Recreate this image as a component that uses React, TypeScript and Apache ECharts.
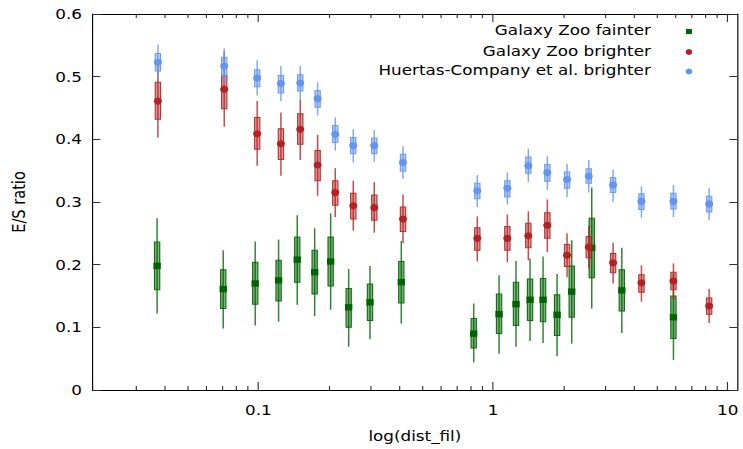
import React, { useEffect, useRef } from "react";
import * as echarts from "echarts";

// ---- data ----
const faintX = [0.037, 0.0708, 0.0969, 0.1219, 0.1464, 0.1737, 0.2032, 0.2425, 0.2989, 0.4064, 0.8273, 1.061, 1.253, 1.438, 1.634, 1.875, 2.165, 2.635, 3.539, 5.874];
const faintC = [0.198, 0.161, 0.170, 0.175, 0.208, 0.188, 0.205, 0.132, 0.140, 0.172, 0.090, 0.121, 0.137, 0.144, 0.144, 0.120, 0.157, 0.227, 0.159, 0.116];
const faintBoxHi = [0.236, 0.192, 0.204, 0.207, 0.244, 0.223, 0.244, 0.162, 0.169, 0.205, 0.114, 0.153, 0.172, 0.177, 0.178, 0.152, 0.198, 0.274, 0.192, 0.150];
const faintBoxLo = [0.160, 0.130, 0.137, 0.142, 0.172, 0.153, 0.166, 0.100, 0.111, 0.139, 0.067, 0.090, 0.103, 0.111, 0.109, 0.087, 0.116, 0.179, 0.126, 0.082];
const faintWhiHi = [0.274, 0.223, 0.237, 0.240, 0.279, 0.258, 0.282, 0.193, 0.198, 0.238, 0.138, 0.183, 0.206, 0.210, 0.213, 0.185, 0.239, 0.323, 0.227, 0.185];
const faintWhiLo = [0.122, 0.098, 0.103, 0.109, 0.136, 0.118, 0.128, 0.069, 0.081, 0.106, 0.044, 0.058, 0.069, 0.078, 0.075, 0.054, 0.074, 0.130, 0.091, 0.048];

const brightX = [0.0373, 0.0715, 0.0988, 0.1247, 0.1508, 0.1788, 0.2126, 0.2537, 0.3118, 0.4133, 0.857, 1.151, 1.414, 1.704, 2.068, 2.559, 3.249, 4.291, 5.874, 8.339];
const brightC = [0.461, 0.480, 0.409, 0.393, 0.416, 0.359, 0.315, 0.294, 0.291, 0.273, 0.242, 0.242, 0.246, 0.263, 0.215, 0.228, 0.203, 0.171, 0.174, 0.134];
const brightBoxHi = [0.491, 0.502, 0.435, 0.417, 0.441, 0.382, 0.334, 0.314, 0.311, 0.292, 0.259, 0.261, 0.266, 0.283, 0.232, 0.245, 0.218, 0.184, 0.188, 0.147];
const brightBoxLo = [0.432, 0.449, 0.384, 0.368, 0.392, 0.334, 0.295, 0.273, 0.271, 0.253, 0.223, 0.223, 0.227, 0.242, 0.197, 0.211, 0.187, 0.156, 0.160, 0.121];
const brightWhiHi = [0.519, 0.540, 0.461, 0.443, 0.463, 0.407, 0.354, 0.334, 0.332, 0.312, 0.277, 0.280, 0.285, 0.304, 0.250, 0.262, 0.235, 0.199, 0.202, 0.161];
const brightWhiLo = [0.403, 0.420, 0.358, 0.342, 0.367, 0.310, 0.276, 0.254, 0.251, 0.234, 0.205, 0.204, 0.207, 0.220, 0.180, 0.194, 0.170, 0.141, 0.144, 0.107];

const hcX = brightX;
const hcC = [0.523, 0.517, 0.498, 0.489, 0.490, 0.465, 0.408, 0.390, 0.390, 0.363, 0.318, 0.322, 0.358, 0.347, 0.336, 0.341, 0.327, 0.301, 0.301, 0.297];
const hcBoxHi = [0.537, 0.531, 0.511, 0.502, 0.503, 0.478, 0.422, 0.403, 0.402, 0.376, 0.330, 0.334, 0.372, 0.360, 0.348, 0.353, 0.339, 0.313, 0.314, 0.309];
const hcBoxLo = [0.509, 0.502, 0.484, 0.474, 0.477, 0.451, 0.395, 0.377, 0.377, 0.349, 0.305, 0.308, 0.346, 0.333, 0.322, 0.330, 0.315, 0.288, 0.289, 0.284];
const hcWhiHi = [0.551, 0.545, 0.526, 0.517, 0.517, 0.491, 0.435, 0.416, 0.415, 0.389, 0.343, 0.347, 0.385, 0.373, 0.361, 0.367, 0.352, 0.325, 0.327, 0.322];
const hcWhiLo = [0.495, 0.487, 0.470, 0.461, 0.463, 0.438, 0.382, 0.363, 0.364, 0.337, 0.292, 0.296, 0.332, 0.319, 0.308, 0.315, 0.300, 0.275, 0.276, 0.271];

const seriesNames = ["Galaxy Zoo fainter", "Galaxy Zoo brighter", "Huertas-Company et al. brighter"];
const majorTicks = [0.1, 1, 10];
const minorTicks = [0.03, 0.04, 0.05, 0.06, 0.07, 0.08, 0.09, 0.2, 0.3, 0.4, 0.5, 0.6, 0.7, 0.8, 0.9, 2, 3, 4, 5, 6, 7, 8, 9];

const X_MIN = 0.0196;
const X_MAX = 11;
const FONT = "DejaVu Sans";
const FS = 14.6;
const W = 646;
const H = 449;
const SX = 743 / W;

const GREEN = "#006400";
const RED = "#b22222";
const BLUE = "#6495ed";

function rows(xs: number[], c: number[], bl: number[], bh: number[], wl: number[], wh: number[]) {
  return xs.map((x, i) => [x, c[i], bl[i], bh[i], wl[i], wh[i]]);
}

function makeSeries(name: string, data: number[][], color: string, fill: string, marker: "square" | "circle") {
  return {
    type: "custom",
    name,
    xAxisIndex: 0,
    yAxisIndex: 0,
    data,
    encode: { x: 0, y: [1, 2, 3, 4, 5] },
    renderItem: (_params: any, api: any) => {
      const x = api.value(0);
      const pc = api.coord([x, api.value(1)]);
      const pbl = api.coord([x, api.value(2)]);
      const pbh = api.coord([x, api.value(3)]);
      const pwl = api.coord([x, api.value(4)]);
      const pwh = api.coord([x, api.value(5)]);
      const cx = pc[0];
      const bw = 4.6;
      const m =
        marker === "square"
          ? { type: "rect", shape: { x: cx - 3.2, y: pc[1] - 3.2, width: 6.4, height: 6.4 }, style: { fill: color } }
          : { type: "circle", shape: { cx, cy: pc[1], r: 3.5 }, style: { fill: color } };
      return {
        type: "group",
        children: [
          { type: "line", shape: { x1: cx, y1: pwh[1], x2: cx, y2: pwl[1] }, style: { stroke: color, lineWidth: 1.3, opacity: 0.8 } },
          { type: "rect", shape: { x: cx - bw / 2, y: pbh[1], width: bw, height: pbl[1] - pbh[1] }, style: { fill, stroke: color, lineWidth: 1, opacity: 0.9 } },
          m,
        ],
      };
    },
  };
}

function xAxisDef(position: "bottom" | "top", major: boolean) {
  return {
    type: "log",
    logBase: 10,
    min: X_MIN,
    max: X_MAX,
    position,
    name: position === "bottom" && major ? "log(dist_fil)" : "",
    nameLocation: "middle",
    nameGap: 38,
    nameTextStyle: { fontFamily: FONT, fontSize: FS, color: "#000" },
    axisLine: { show: major, onZero: false, lineStyle: { color: "#000", width: 1 } },
    axisTick: {
      show: true,
      inside: true,
      length: major ? 8 : 4,
      customValues: major ? majorTicks : minorTicks,
      lineStyle: { color: "#333", width: 1 },
    },
    axisLabel: {
      show: position === "bottom" && major,
      customValues: majorTicks,
      margin: 12,
      fontFamily: FONT,
      fontSize: FS,
      color: "#000",
      formatter: (v: number) => (v < 1 ? v.toFixed(1) : String(Math.round(v))),
    },
    splitLine: { show: false },
    minorTick: { show: false },
  };
}

export default function App() {
  const ref = useRef<HTMLDivElement>(null);
  useEffect(() => {
    if (!ref.current) return;
    const chart = echarts.init(ref.current, undefined, { renderer: "svg" });
    const legendRows = [
      { y: 31.5, color: GREEN, marker: "square" },
      { y: 52, color: RED, marker: "circle" },
      { y: 71.5, color: BLUE, marker: "circle" },
    ];
    const graphic: any[] = [];
    legendRows.forEach((r, i) => {
      graphic.push({
        type: "text",
        right: W - 566,
        top: r.y - 9,
        style: { text: seriesNames[i], fontFamily: FONT, fontSize: FS, fill: "#000" },
      });
      if (r.marker === "square") {
        graphic.push({ type: "rect", shape: { x: 599 - 2.6, y: r.y - 2.6, width: 5.2, height: 5.2 }, style: { fill: r.color } });
      } else {
        graphic.push({ type: "circle", shape: { cx: 599, cy: r.y, r: 2.9 }, style: { fill: r.color } });
      }
    });

    chart.setOption({
      animation: false,
      backgroundColor: "#fff",
      textStyle: { fontFamily: FONT },
      grid: { left: 80.3, right: W - 641.1, top: 14, bottom: 59, containLabel: false },
      xAxis: [xAxisDef("bottom", true), xAxisDef("bottom", false), xAxisDef("top", true), xAxisDef("top", false)],
      yAxis: [
        {
          type: "value",
          min: 0,
          max: 0.6,
          interval: 0.1,
          position: "left",
          name: "E/S ratio",
          nameLocation: "middle",
          nameRotate: 90,
          nameGap: 56,
          nameTextStyle: { fontFamily: FONT, fontSize: FS, color: "#000" },
          axisLine: { show: true, lineStyle: { color: "#000", width: 1 } },
          axisTick: { show: true, inside: true, length: 7, lineStyle: { color: "#333", width: 1 } },
          axisLabel: {
            margin: 9,
            fontFamily: FONT,
            fontSize: FS,
            color: "#000",
            formatter: (v: number) => (v === 0 ? "0" : v.toFixed(1)),
          },
          splitLine: { show: false },
        },
        {
          type: "value",
          min: 0,
          max: 0.6,
          interval: 0.1,
          position: "right",
          axisLine: { show: true, lineStyle: { color: "#000", width: 1 } },
          axisTick: { show: true, inside: true, length: 7, lineStyle: { color: "#333", width: 1 } },
          axisLabel: { show: false },
          splitLine: { show: false },
        },
      ],
      graphic,
      series: [
        makeSeries(seriesNames[0], rows(faintX, faintC, faintBoxLo, faintBoxHi, faintWhiLo, faintWhiHi), GREEN, "rgba(0,100,0,0.55)", "square"),
        makeSeries(seriesNames[1], rows(brightX, brightC, brightBoxLo, brightBoxHi, brightWhiLo, brightWhiHi), RED, "rgba(178,34,34,0.5)", "circle"),
        makeSeries(seriesNames[2], rows(hcX, hcC, hcBoxLo, hcBoxHi, hcWhiLo, hcWhiHi), BLUE, "rgba(100,149,237,0.5)", "circle"),
      ],
    });
    return () => chart.dispose();
  }, []);
  return (
    <div
      ref={ref}
      style={{
        position: "fixed",
        left: 0,
        top: 0,
        width: W,
        height: H,
        transform: `scaleX(${SX})`,
        transformOrigin: "0 0",
      }}
    />
  );
}
